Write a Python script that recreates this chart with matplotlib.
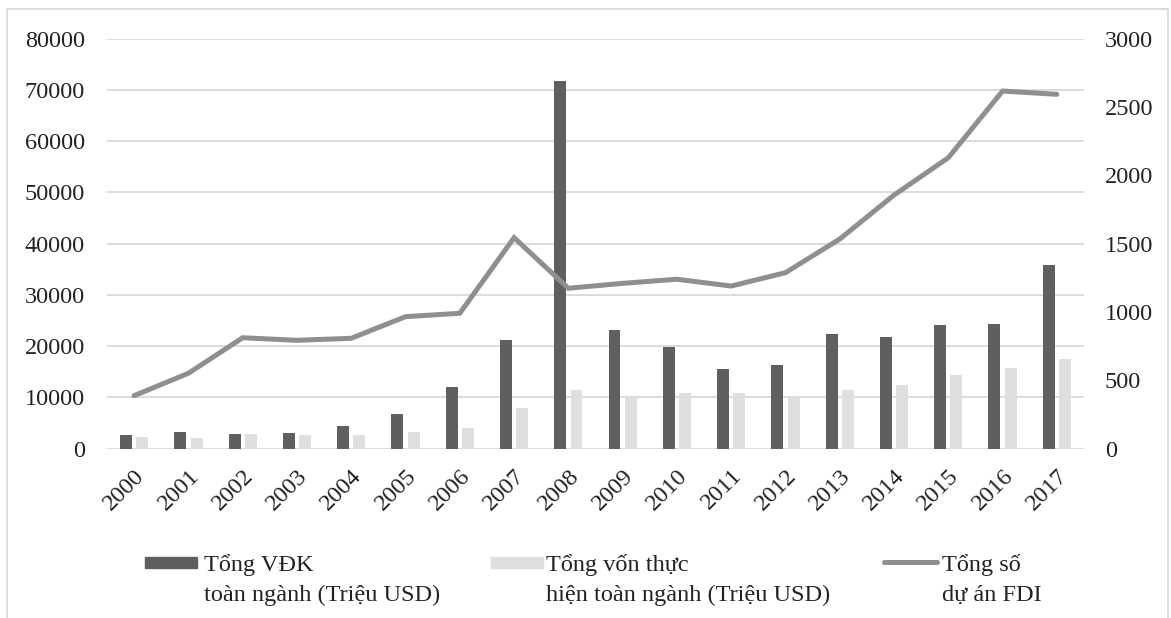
import matplotlib
matplotlib.use("Agg")
import matplotlib.pyplot as plt
import numpy as np
from matplotlib.patches import Rectangle
from matplotlib.lines import Line2D

years = [str(y) for y in range(2000, 2018)]
vdk = [2670, 3260, 2930, 3120, 4490, 6770, 11980, 21270, 71750, 23100,
       19840, 15490, 16270, 22320, 21850, 24080, 24330, 35790]
von_th = [2340, 2150, 2800, 2670, 2670, 3260, 4040, 8000, 11450, 9950,
          10870, 10870, 10030, 11450, 12430, 14440, 15750, 17440]
so_du_an = [388, 552, 812, 793, 808, 966, 991, 1544, 1174, 1210,
            1240, 1190, 1288, 1534, 1856, 2129, 2617, 2593]

legend_labels = [("Tổng VĐK", "toàn ngành (Triệu USD)"),
                 ("Tổng vốn thực", "hiện toàn ngành (Triệu USD)"),
                 ("Tổng số", "dự án FDI")]

DARK = "#5f5f61"
LIGHT = "#dedfe0"
LINE = "#8e8f91"
GRID = "#d9d9d9"
TXT = "#222222"

plt.rcParams['font.family'] = ['Liberation Serif', 'DejaVu Serif']
FS = 17.5

W, H = 1171, 618
fig = plt.figure(figsize=(W / 100, H / 100), dpi=100)

def fx(px):
    return px / W

def fy(py):
    return 1 - py / H

ax = fig.add_axes([fx(107), fy(448.7), fx(1084) - fx(107), fy(38.7) - fy(448.7)])
x = np.arange(len(years))
bw = 0.22
off = 0.15
ax.bar(x - off, vdk, width=bw, color=DARK, zorder=3)
ax.bar(x + off, von_th, width=bw, color=LIGHT, zorder=3)
ax.set_xlim(-0.5, len(years) - 0.5)
ax.set_ylim(0, 80000)
ax.set_yticks(np.arange(0, 80001, 10000))
ax.yaxis.grid(True, color=GRID, lw=1.3, zorder=0)
ax.set_axisbelow(True)
for s in ax.spines.values():
    s.set_visible(False)
ax.tick_params(axis='both', length=0, labelsize=FS, colors=TXT)
ax.tick_params(axis='y', pad=16)
ax.set_xticks(x)
ax.set_xticklabels(years, rotation=45, ha='right', va='top', rotation_mode='anchor')
ax.tick_params(axis='x', pad=12)

ax2 = ax.twinx()
ax2.plot(x, so_du_an, color=LINE, lw=3.6, solid_capstyle='round', solid_joinstyle='miter', zorder=4)
ax2.set_ylim(0, 3000)
ax2.set_yticks(np.arange(0, 3001, 500))
for s in ax2.spines.values():
    s.set_visible(False)
ax2.tick_params(axis='y', length=0, labelsize=FS, colors=TXT, pad=15)

# legend (manual)
fig.add_artist(Rectangle((fx(145), fy(567.5)), fx(197) - fx(145), fy(557) - fy(567.5),
                         transform=fig.transFigure, color=DARK))
fig.add_artist(Rectangle((fx(491), fy(567.5)), fx(543) - fx(491), fy(557) - fy(567.5),
                         transform=fig.transFigure, color=LIGHT))
fig.add_artist(Line2D([fx(884), fx(937)], [fy(562.3), fy(562.3)], transform=fig.transFigure,
                      color=LINE, lw=3.6, solid_capstyle='round'))
text_x = [204, 546, 942]
for (l1, l2), tx in zip(legend_labels, text_x):
    fig.text(fx(tx), fy(571.5), l1, fontsize=FS, color=TXT, ha='left', va='baseline')
    fig.text(fx(tx), fy(601), l2, fontsize=FS, color=TXT, ha='left', va='baseline')

# outer border
fig.add_artist(Rectangle((fx(7), fy(640)), fx(1168) - fx(7), fy(9) - fy(640),
                         transform=fig.transFigure, fill=False, edgecolor=GRID, lw=1.3))

fig.savefig("out.png", dpi=100)
